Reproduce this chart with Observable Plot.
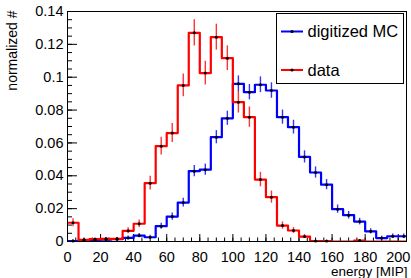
<!DOCTYPE html>
<html><head><meta charset="utf-8">
<script src="https://cdn.jsdelivr.net/npm/d3@7"></script>
<script src="https://cdn.jsdelivr.net/npm/@observablehq/plot@0.6"></script>
<style>
body{margin:0;background:#fff;}
#wrap{position:relative;width:411px;height:278px;font-family:"Liberation Sans",Arial,sans-serif;}
#wrap svg text{font-family:"Liberation Sans",Arial,sans-serif;}
#legend{position:absolute;left:0;top:0;pointer-events:none;}
</style></head><body><div id="wrap"></div>
<script>
// bin lower edges (energy [MIP]) and bin width
const binLow = [0, 6.67, 13.33, 20, 26.67, 33.33, 40, 46.67, 53.33, 60, 66.67, 73.33, 80, 86.67, 93.33, 100, 106.67, 113.33, 120, 126.67, 133.33, 140, 146.67, 153.33, 160, 166.67, 173.33, 180, 186.67, 193.33, 200];
const binWidth = 6.67;

// digitized MC (blue)
const mcValues = [0.0003,0.0006,0.0009,0.0012,0.0014,0.0022,0.0036,0.0026,0.0093,0.0152,0.0237,0.0428,0.0437,0.0635,0.075,0.096,0.0909,0.0954,0.0919,0.0757,0.0696,0.0515,0.042,0.0346,0.0197,0.016,0.0121,0.0062,0.0021,0.0032,0.0032];
const mcErrors = [0.0007,0.0008,0.0009,0.001,0.001,0.0012,0.0013,0.0012,0.0018,0.0022,0.0027,0.0034,0.0034,0.004,0.0043,0.0048,0.0047,0.0048,0.0047,0.0043,0.0042,0.0037,0.0034,0.0031,0.0025,0.0023,0.002,0.0016,0.0011,0.0013,0.0013];

// data (red)
const dataValues = [0.0114,0.0010,0.0014,0.0016,0.0016,0.0065,0.0108,0.0355,0.058,0.066,0.095,0.127,0.1025,0.1244,0.1116,0.0848,0.0757,0.0377,0.027,0.0097,0.0067,0.003,0.0003,0.0003,0,0,0.0006,0,0,0,0];
const dataErrors = [0.0024,0.0007,0.0008,0.0009,0.0009,0.0018,0.0023,0.0042,0.0054,0.0058,0.0069,0.008,0.0072,0.0079,0.0075,0.0066,0.0062,0.0044,0.0037,0.0022,0.0018,0.0012,0.0004,0.0004,0,0,0.0006,0,0,0,0];

const xTickLabels = [0,20,40,60,80,100,120,140,160,180,200];
const yTickLabels = [0,0.02,0.04,0.06,0.08,0.1,0.12,0.14];
const xMinorTicks = [0,5,10,15,20,25,30,35,40,45,50,55,60,65,70,75,80,85,90,95,100,105,110,115,120,125,130,135,140,145,150,155,160,165,170,175,180,185,190,195,200,205];
const yMinorTicks = [0,0.005,0.01,0.015,0.02,0.025,0.03,0.035,0.04,0.045,0.05,0.055,0.06,0.065,0.07,0.075,0.08,0.085,0.09,0.095,0.1,0.105,0.11,0.115,0.12,0.125,0.13,0.135,0.14];

const seriesNames = ["digitized MC", "data"];
const seriesColors = ["#0000ff", "#ff0000"];
const xTitle = "energy [MIP]";
const yTitle = "normalized #";

function stepPoints(vals) {
  const pts = binLow.map((x, i) => ({x, y: vals[i]}));
  pts.push({x: binLow[binLow.length - 1] + binWidth, y: vals[vals.length - 1]});
  return pts;
}
function barPoints(vals, errs) {
  return binLow.map((x, i) => ({x: x + binWidth / 2, y: vals[i], e: errs[i]})).filter(d => d.y > 0);
}

const W = 411, H = 278, mL = 67, mR = 5, mT = 11, mB = 37;
const frameW = W - mL - mR, frameH = H - mT - mB;

const mc = stepPoints(mcValues), dt = stepPoints(dataValues);
const mcBars = barPoints(mcValues, mcErrors), dtBars = barPoints(dataValues, dataErrors);

const chart = Plot.plot({
  width: W, height: H,
  marginLeft: mL, marginRight: mR, marginTop: mT, marginBottom: mB,
  style: {fontSize: "14.5px", fontFamily: "Liberation Sans, Arial, sans-serif", background: "white", color: "black"},
  x: {domain: [0, 205], ticks: xTickLabels, tickSize: 0, tickPadding: 10, label: null, tickFormat: d => String(d)},
  y: {domain: [0, 0.14], ticks: yTickLabels, tickSize: 0, tickPadding: 4, label: null, tickFormat: d3.format("~g")},
  marks: [
    Plot.ruleY(yMinorTicks, {y: d => d, insetRight: frameW - 5, stroke: "black"}),
    Plot.ruleY(yTickLabels, {y: d => d, insetRight: frameW - 10, stroke: "black"}),
    Plot.ruleX(xMinorTicks, {x: d => d, insetTop: frameH - 3.5, stroke: "black"}),
    Plot.ruleX(xTickLabels, {x: d => d, insetTop: frameH - 7, stroke: "black"}),
    Plot.line(mc, {x: "x", y: "y", curve: "step-after", stroke: seriesColors[0], strokeWidth: 2.2, clip: true}),
    Plot.line(dt, {x: "x", y: "y", curve: "step-after", stroke: seriesColors[1], strokeWidth: 2.2, clip: true}),
    Plot.ruleX(mcBars, {x: "x", y1: d => d.y - d.e, y2: d => d.y + d.e, stroke: seriesColors[0], strokeWidth: 1.4, strokeOpacity: 0.8}),
    Plot.dot(mcBars, {x: "x", y: "y", r: 1.5, fill: "black", stroke: "none"}),
    Plot.ruleX(dtBars, {x: "x", y1: d => d.y - d.e, y2: d => d.y + d.e, stroke: seriesColors[1], strokeWidth: 1.4, strokeOpacity: 0.8}),
    Plot.dot(dtBars, {x: "x", y: "y", r: 1.5, fill: "black", stroke: "none"}),
    Plot.frame({stroke: "black"}),
    Plot.text([yTitle], {text: d => d, frameAnchor: "top-left", rotate: -90, textAnchor: "end", lineAnchor: "middle", dx: -55, dy: -1, fontSize: 14, fill: "black"}),
    Plot.text([xTitle], {text: d => d, frameAnchor: "bottom-right", textAnchor: "end", lineAnchor: "middle", dx: 1, dy: 30, fontSize: 13.5, fill: "black"})
  ]
});
const wrap = document.getElementById("wrap");
wrap.appendChild(chart);

// legend box (ROOT TLegend style)
const ns = "http://www.w3.org/2000/svg";
const lg = document.createElementNS(ns, "svg");
lg.setAttribute("id", "legend");
lg.setAttribute("width", W); lg.setAttribute("height", H);
const box = {x: 276.5, y: 13.5, w: 127, h: 70};
const rect = document.createElementNS(ns, "rect");
rect.setAttribute("x", box.x); rect.setAttribute("y", box.y);
rect.setAttribute("width", box.w); rect.setAttribute("height", box.h);
rect.setAttribute("fill", "white"); rect.setAttribute("stroke", "black");
lg.appendChild(rect);
const rowY = [31.5, 70];
seriesNames.forEach((name, i) => {
  const ln = document.createElementNS(ns, "line");
  ln.setAttribute("x1", 281); ln.setAttribute("x2", 303);
  ln.setAttribute("y1", rowY[i]); ln.setAttribute("y2", rowY[i]);
  ln.setAttribute("stroke", seriesColors[i]); ln.setAttribute("stroke-width", 2);
  lg.appendChild(ln);
  const c = document.createElementNS(ns, "circle");
  c.setAttribute("cx", 292); c.setAttribute("cy", rowY[i]); c.setAttribute("r", 1.6);
  c.setAttribute("fill", "black");
  lg.appendChild(c);
  const t = document.createElementNS(ns, "text");
  t.setAttribute("x", 307.5); t.setAttribute("y", rowY[i]);
  t.setAttribute("dy", "0.36em");
  t.setAttribute("font-size", "16.5px");
  t.setAttribute("fill", "black");
  t.textContent = name;
  lg.appendChild(t);
});
wrap.appendChild(lg);
</script></body></html>
